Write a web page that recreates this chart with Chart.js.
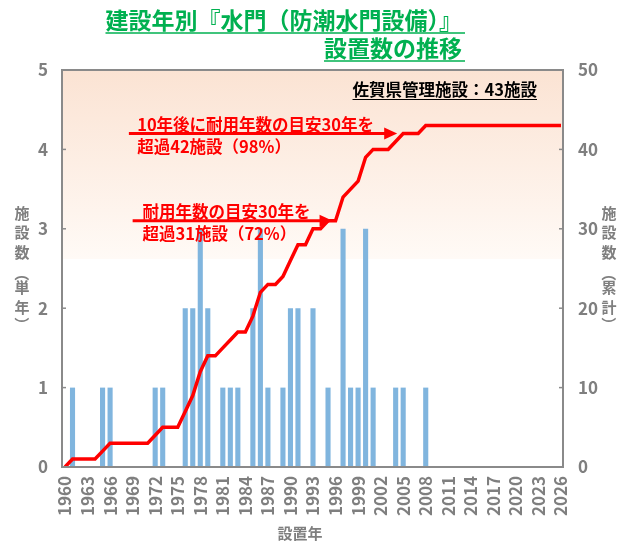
<!DOCTYPE html>
<html>
<head>
<meta charset="utf-8">
<script src="https://cdn.jsdelivr.net/npm/chart.js@4"></script>
<style>
html,body{margin:0;padding:0;background:#fff;}
#wrap{width:626px;height:548px;position:relative;}
</style>
</head>
<body>
<div id="wrap"><canvas id="c" width="626" height="548"></canvas></div>
<script>
// ---- data ----
const years = ["1960","1961","1962","1963","1964","1965","1966","1967","1968","1969",
"1970","1971","1972","1973","1974","1975","1976","1977","1978","1979",
"1980","1981","1982","1983","1984","1985","1986","1987","1988","1989",
"1990","1991","1992","1993","1994","1995","1996","1997","1998","1999",
"2000","2001","2002","2003","2004","2005","2006","2007","2008","2009",
"2010","2011","2012","2013","2014","2015","2016","2017","2018","2019",
"2020","2021","2022","2023","2024","2025","2026"];
const annualCounts = [0,1,0,0,0,1,1,0,0,0,
0,0,1,1,0,0,2,2,3,2,
0,1,1,1,0,2,3,1,0,1,
2,2,0,2,0,1,0,3,1,1,
3,1,0,0,1,1,0,0,1,0,
0,0,0,0,0,0,0,0,0,0,
0,0,0,0,0,0,0];
const cumulativeCounts = [0,1,1,1,1,2,3,3,3,3,
3,3,4,5,5,5,7,9,12,14,
14,15,16,17,17,19,22,23,23,24,
26,28,28,30,30,31,31,34,35,36,
39,40,40,40,41,42,42,42,43,43,
43,43,43,43,43,43,43,43,43,43,
43,43,43,43,43,43,43];
const shownYearLabels = ["1960","1963","1966","1969","1972","1975","1978","1981","1984","1987","1990","1993","1996","1999","2002","2005","2008","2011","2014","2017","2020","2023","2026"];
const titleLines = ["建設年別『水門（防潮水門設備）』", "設置数の推移"];
const noteText = "佐賀県管理施設：43施設";
const leftAxisTitle = ["施","設","数","（","単","年","）"];
const rightAxisTitle = ["施","設","数","（","累","計","）"];
const xAxisTitle = "設置年";
const arrowNotes = [
  {lines:["10年後に耐用年数の目安30年を","超過42施設（98%）"], level:42, from:8.5, to:44.2, textAt:9.6},
  {lines:["耐用年数の目安30年を","超過31施設（72%）"], level:31, from:9.0, to:35.6, textAt:10.3}
];

// ---- styles ----
const GRAY = '#7f7f7f';
const BORDER = '#8a8a8a';
const FONT = '"Liberation Sans Narrow", "Noto Sans CJK JP", sans-serif';
const FRAME = {left:62, right:563};

const decor = {
  id:'decor',
  beforeDatasetsDraw(chart){
    const {ctx, chartArea:a, scales} = chart;
    ctx.save();
    const yEnd = scales.y.getPixelForValue(2.62);
    const g = ctx.createLinearGradient(0, a.top, 0, yEnd);
    g.addColorStop(0, '#fbe3d3');
    g.addColorStop(1, '#fffaf6');
    ctx.fillStyle = g;
    ctx.fillRect(FRAME.left, a.top, FRAME.right - FRAME.left, yEnd - a.top);
    ctx.restore();
  },
  afterDraw(chart){
    const {ctx, chartArea:a, scales} = chart;
    ctx.save();
    // frame
    ctx.strokeStyle = BORDER; ctx.lineWidth = 2;
    ctx.strokeRect(FRAME.left, a.top, FRAME.right - FRAME.left, a.bottom - a.top);
    // inward tick marks
    ctx.lineWidth = 1.5;
    scales.y.ticks.forEach(t => {
      const py = scales.y.getPixelForValue(t.value);
      ctx.beginPath(); ctx.moveTo(FRAME.left, py); ctx.lineTo(FRAME.left+4, py); ctx.stroke();
    });
    scales.y2.ticks.forEach(t => {
      const py = scales.y2.getPixelForValue(t.value);
      ctx.beginPath(); ctx.moveTo(FRAME.right-4, py); ctx.lineTo(FRAME.right, py); ctx.stroke();
    });
    // title
    ctx.fillStyle = '#00b050'; ctx.strokeStyle = '#00b050';
    ctx.font = 'bold 23px ' + FONT;
    ctx.textAlign = 'right'; ctx.textBaseline = 'middle';
    const tx = 462;
    const ty = [20, 48];
    titleLines.forEach((s, i) => {
      ctx.fillText(s, tx, ty[i]);
      const w = ctx.measureText(s).width;
      ctx.lineWidth = 1.5;
      ctx.beginPath(); ctx.moveTo(tx - w, ty[i] + 13); ctx.lineTo(tx + 3, ty[i] + 13); ctx.stroke();
    });
    // note
    ctx.fillStyle = '#000'; ctx.strokeStyle = '#000';
    ctx.font = 'bold 16.5px ' + FONT;
    ctx.textAlign = 'right';
    ctx.fillText(noteText, 537, 90);
    const nw = ctx.measureText(noteText).width;
    ctx.lineWidth = 1;
    ctx.beginPath(); ctx.moveTo(537 - nw, 99.5); ctx.lineTo(537, 99.5); ctx.stroke();
    // arrows
    ctx.fillStyle = '#ff0000'; ctx.strokeStyle = '#ff0000';
    arrowNotes.forEach(n => {
      const py = scales.y2.getPixelForValue(n.level);
      const x0 = scales.x.getPixelForValue(n.from);
      const x1 = scales.x.getPixelForValue(n.to);
      ctx.lineWidth = 3;
      ctx.beginPath(); ctx.moveTo(x0, py); ctx.lineTo(x1 - 10, py); ctx.stroke();
      ctx.beginPath(); ctx.moveTo(x1, py); ctx.lineTo(x1 - 13, py - 6); ctx.lineTo(x1 - 13, py + 6); ctx.closePath(); ctx.fill();
      ctx.font = 'bold 16.5px ' + FONT;
      ctx.textAlign = 'left';
      const xt = scales.x.getPixelForValue(n.textAt);
      ctx.fillText(n.lines[0], xt, py - 9);
      ctx.fillText(n.lines[1], xt, py + 13);
    });
    // axis titles
    ctx.fillStyle = GRAY;
    ctx.font = 'bold 15px "Noto Sans CJK JP", sans-serif';
    ctx.textAlign = 'center';
    const drawVert = (chars, x, y0) => {
      let y = y0;
      chars.forEach(ch => {
        const paren = (ch === '（' || ch === '）');
        if (paren) {
          const yy = y + (ch === '（' ? 2 : -2);
          ctx.save(); ctx.translate(x, yy); ctx.rotate(Math.PI/2); ctx.fillText(ch, 0, 0); ctx.restore();
          y += 16;
        } else {
          ctx.fillText(ch, x, y);
          y += 19.5;
        }
      });
    };
    drawVert(leftAxisTitle, 22, 213);
    drawVert(rightAxisTitle, 609, 213);
    ctx.fillText(xAxisTitle, 300, 533);
    ctx.restore();
  }
};

new Chart(document.getElementById('c'), {
  data: {
    labels: years,
    datasets: [
      {type:'line', data: cumulativeCounts, yAxisID:'y2', borderColor:'#ff0000', borderWidth:3.5,
       pointRadius:0, tension:0, fill:false, order:0},
      {type:'bar', data: annualCounts, yAxisID:'y', backgroundColor:'#80b5de',
       barPercentage:0.68, categoryPercentage:1, order:1}
    ]
  },
  options: {
    responsive:false, animation:false, devicePixelRatio:1,
    layout:{padding:{top:70, left:0, right:0, bottom:0}},
    plugins:{legend:{display:false}, tooltip:{enabled:false}, title:{display:false}},
    scales:{
      x:{type:'category', offset:false,
         grid:{display:false, drawTicks:false},
         border:{display:false},
         ticks:{autoSkip:false, minRotation:90, maxRotation:90, padding:9, color:GRAY,
                font:{family:FONT, weight:'bold', size:17},
                callback(v){ const l = this.getLabelForValue(v); return shownYearLabels.includes(l) ? l : ''; }},
         afterFit(s){ s.height = 81; }},
      y:{position:'left', min:0, max:5,
         grid:{display:false, drawTicks:false},
         border:{display:false},
         ticks:{stepSize:1, padding:17, color:GRAY, font:{family:FONT, weight:'bold', size:17}},
         afterFit(s){ s.width = 65; }},
      y2:{position:'right', min:0, max:50,
         grid:{display:false, drawTicks:false},
         border:{display:false},
         ticks:{stepSize:10, padding:17, color:GRAY, font:{family:FONT, weight:'bold', size:17}},
         afterFit(s){ s.width = 65; }}
    }
  },
  plugins:[decor]
});
</script>
</body>
</html>
